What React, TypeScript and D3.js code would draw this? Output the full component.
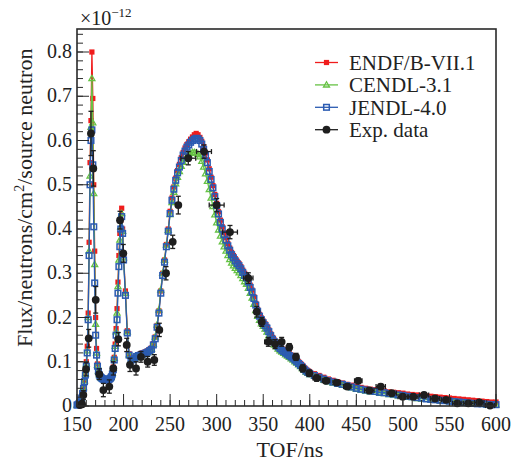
import React from 'react';
import * as d3 from 'd3';

const TOF = [
  150,151,152,153,154,155,156,157,158,159,160,161,162,163,164,165,166,167,168,169,170,
  171,172,173,174,175,176,177,178,179,180,181,182,183,184,185,186,187,188,189,190,
  191,192,193,194,195,196,197,198,199,200,
  202,204,206,208,210,212,214,216,218,220,222,224,226,228,230,232,234,236,238,240,
  242,244,246,248,250,252,254,256,258,260,262,264,266,268,270,272,274,276,278,280,
  282,284,286,288,290,292,294,296,298,300,302,304,306,308,310,312,314,316,318,320,
  322,324,326,328,330,332,334,336,338,340,342,344,346,348,350,352,354,356,358,360,
  362,364,366,368,370,372,374,376,378,380,382,384,386,388,390,392,394,396,398,400,
  405,410,415,420,425,430,435,440,445,450,455,460,465,470,475,480,485,490,495,500,
  505,510,515,520,525,530,535,540,545,550,555,560,565,570,575,580,585,590,595,600,
];

const ENDF = [
  0.002,0.003,0.005,0.008,0.012,0.019,0.03,0.043,0.058,0.075,
  0.1,0.135,0.21,0.37,0.55,0.645,0.8,0.695,0.5,0.35,
  0.2,0.13,0.095,0.08,0.072,0.067,0.065,0.063,0.062,0.061,
  0.06,0.06,0.06,0.061,0.062,0.063,0.065,0.068,0.075,0.088,
  0.11,0.14,0.175,0.22,0.28,0.34,0.39,0.42,0.447,0.4,0.34,
  0.26,0.17,0.118,0.106,0.107,0.11,0.113,0.116,0.118,0.12,
  0.121,0.123,0.125,0.128,0.131,0.141,0.156,0.182,0.215,0.26,
  0.3,0.33,0.365,0.4,0.44,0.47,0.495,0.515,0.532,0.546,
  0.561,0.573,0.583,0.591,0.597,0.603,0.608,0.613,0.616,0.613,
  0.607,0.598,0.586,0.572,0.556,0.536,0.517,0.498,0.478,0.458,
  0.439,0.42,0.405,0.392,0.38,0.367,0.357,0.347,0.34,0.333,
  0.327,0.322,0.315,0.307,0.3,0.295,0.285,0.273,0.262,0.247,
  0.232,0.218,0.207,0.199,0.192,0.186,0.18,0.172,0.163,0.155,
  0.149,0.144,0.138,0.134,0.13,0.127,0.124,0.121,0.118,0.115,
  0.112,0.108,0.104,0.1,0.096,0.092,0.087,0.083,0.08,0.077,
  0.073,0.069,0.065,0.061,0.058,0.055,0.052,0.049,0.047,0.044,
  0.042,0.04,0.038,0.037,0.035,0.034,0.032,0.031,0.03,0.029,
  0.027,0.026,0.025,0.024,0.023,0.022,0.021,0.02,0.019,0.018,
  0.017,0.016,0.015,0.014,0.013,0.012,0.011,0.01,0.009,0.009,
];

const CENDL = [
  0.002,0.003,0.005,0.008,0.012,0.019,0.029,0.042,0.057,0.073,
  0.095,0.125,0.2,0.35,0.52,0.63,0.74,0.64,0.48,0.32,
  0.185,0.12,0.092,0.079,0.071,0.066,0.064,0.062,0.061,0.06,
  0.059,0.059,0.059,0.06,0.061,0.062,0.064,0.067,0.074,0.086,
  0.108,0.135,0.168,0.21,0.27,0.33,0.375,0.405,0.435,0.395,0.335,
  0.255,0.168,0.116,0.104,0.105,0.108,0.111,0.113,0.114,0.116,
  0.117,0.119,0.121,0.124,0.128,0.14,0.156,0.183,0.217,0.262,
  0.3,0.33,0.364,0.397,0.433,0.46,0.483,0.502,0.517,0.53,
  0.542,0.551,0.558,0.564,0.568,0.571,0.573,0.573,0.572,0.569,
  0.563,0.553,0.54,0.525,0.508,0.489,0.47,0.451,0.432,0.414,
  0.398,0.384,0.371,0.36,0.35,0.34,0.331,0.323,0.317,0.311,
  0.306,0.301,0.295,0.288,0.281,0.275,0.266,0.255,0.244,0.23,
  0.216,0.203,0.194,0.186,0.18,0.174,0.167,0.159,0.151,0.144,
  0.138,0.134,0.129,0.125,0.122,0.119,0.116,0.113,0.11,0.107,
  0.104,0.1,0.097,0.093,0.089,0.085,0.081,0.077,0.074,0.071,
  0.067,0.063,0.059,0.055,0.052,0.049,0.047,0.044,0.041,0.038,
  0.036,0.034,0.032,0.031,0.029,0.028,0.026,0.025,0.023,0.022,
  0.02,0.019,0.017,0.016,0.015,0.014,0.013,0.012,0.011,0.01,
  0.009,0.008,0.007,0.006,0.005,0.004,0.004,0.003,0.002,0.002,
];

const JENDL = [
  0.002,0.003,0.005,0.008,0.012,0.018,0.028,0.04,0.055,0.07,
  0.09,0.12,0.195,0.34,0.5,0.6,0.624,0.545,0.405,0.278,
  0.16,0.115,0.09,0.078,0.07,0.066,0.064,0.062,0.061,0.06,
  0.059,0.059,0.059,0.06,0.06,0.061,0.063,0.066,0.072,0.082,
  0.104,0.13,0.16,0.195,0.255,0.315,0.36,0.4,0.428,0.39,0.33,
  0.25,0.165,0.115,0.104,0.105,0.108,0.112,0.114,0.115,0.117,
  0.118,0.12,0.122,0.125,0.128,0.138,0.152,0.178,0.21,0.255,
  0.295,0.325,0.36,0.395,0.435,0.465,0.49,0.51,0.527,0.54,
  0.555,0.567,0.576,0.585,0.59,0.596,0.6,0.603,0.605,0.604,
  0.6,0.592,0.58,0.566,0.55,0.53,0.512,0.493,0.473,0.453,
  0.434,0.415,0.4,0.387,0.375,0.362,0.352,0.342,0.335,0.328,
  0.322,0.317,0.31,0.302,0.295,0.29,0.28,0.268,0.258,0.243,
  0.228,0.214,0.203,0.195,0.188,0.182,0.176,0.168,0.159,0.151,
  0.145,0.14,0.134,0.13,0.126,0.123,0.12,0.117,0.114,0.111,
  0.108,0.104,0.1,0.096,0.092,0.088,0.083,0.079,0.076,0.073,
  0.069,0.065,0.061,0.057,0.054,0.051,0.049,0.046,0.043,0.04,
  0.038,0.036,0.034,0.033,0.031,0.03,0.028,0.027,0.025,0.024,
  0.022,0.021,0.019,0.018,0.016,0.015,0.014,0.013,0.012,0.011,
  0.01,0.009,0.008,0.007,0.006,0.005,0.005,0.004,0.003,0.003,
];

const EXP_T = [
  153,155.5,156.8,159.7,162.6,165.0,167.5,170.1,173.9,178.3,184.7,189.0,194.4,196.2,199.7,
  203.4,206.9,213.4,218.7,225.9,233.0,238.4,245.6,252.8,258.8,269.5,286.4,300.0,314.3,334.0,
  343.0,348.4,355.5,362.7,369.8,378.0,385.2,392.4,399.5,407.4,417.4,428.9,440.3,452.1,464.0,
  476.2,488.0,499.8,511.2,522.7,534.5,546.3,558.4,570.3,582.1,593.6,
];
const EXP_V = [
  0.002,0.004,0.025,0.083,0.153,0.616,0.537,0.24,0.072,0.036,0.044,0.085,0.151,0.42,0.345,
  0.138,0.093,0.085,0.111,0.1,0.104,0.172,0.3,0.371,0.454,0.56,0.575,0.454,0.393,0.289,
  0.213,0.19,0.145,0.14,0.145,0.133,0.111,0.085,0.074,0.063,0.057,0.053,0.044,0.057,0.035,
  0.044,0.029,0.021,0.021,0.025,0.017,0.014,0.006,0.006,0.008,0.001,
];
const EXP_DT = [
  0.5,0.5,0.5,0.5,0.5,0.5,0.5,0.5,0.5,0.5,0.5,0.5,0.5,0.5,0.5,
  1,1,1,1,1,1,1,1,1,1,8,8,8,8,5,
  3,3,4,3,3,3,3,3,3,4,4,4,4,4,5,
  5,5,5,5,5,5,5,5,5,5,5,
];
const EXP_DV = [
  0.006,0.008,0.01,0.015,0.02,0.05,0.04,0.03,0.012,0.015,0.015,0.015,0.015,0.02,0.02,
  0.015,0.015,0.015,0.012,0.012,0.012,0.015,0.015,0.015,0.02,0.015,0.015,0.015,0.015,0.012,
  0.012,0.01,0.01,0.01,0.01,0.008,0.008,0.008,0.007,0.007,0.006,0.006,0.006,0.006,0.005,
  0.005,0.005,0.005,0.005,0.005,0.004,0.004,0.004,0.004,0.004,0.004,
];

const X_TICKS = [150, 200, 250, 300, 350, 400, 450, 500, 550, 600];
const Y_TICKS = [0, 0.1, 0.2, 0.3, 0.4, 0.5, 0.6, 0.7, 0.8];
const Y_LABELS = ['0', '0.1', '0.2', '0.3', '0.4', '0.5', '0.6', '0.7', '0.8'];

const LEGEND = ['ENDF/B-VII.1', 'CENDL-3.1', 'JENDL-4.0', 'Exp. data'];

const RED = '#f01c1c';
const GREEN = '#66c244';
const BLUE = '#2b5bb2';
const BLACK = '#1e1e1e';
const FONT = '"Liberation Serif", "Times New Roman", serif';

const L = 77, R = 496, T = 29, B = 406;

function Marker({ kind, cx, cy }: { kind: string; cx: number; cy: number }) {
  if (kind === 'red') return <rect x={cx - 2.6} y={cy - 2.6} width={5.2} height={5.2} fill={RED} />;
  if (kind === 'green') {
    const s = 6;
    const h = s * 0.87;
    return (
      <polygon
        points={`${cx},${cy - h * 0.6} ${cx - s / 2},${cy + h * 0.4} ${cx + s / 2},${cy + h * 0.4}`}
        fill="none" stroke={GREEN} strokeWidth={1.3}
      />
    );
  }
  if (kind === 'blue') return <rect x={cx - 2.8} y={cy - 2.8} width={5.6} height={5.6} fill="none" stroke={BLUE} strokeWidth={1.5} />;
  return <circle cx={cx} cy={cy} r={3.9} fill={BLACK} />;
}

export default function App() {
  const x = d3.scaleLinear().domain([150, 600]).range([L, R]);
  const y = d3.scaleLinear().domain([0, 0.852]).range([B, T]);

  const line = d3.line<number>().x((_, i) => x(TOF[i])).y((d) => y(d));

  const series = [
    { key: 'red', data: ENDF, color: RED },
    { key: 'green', data: CENDL, color: GREEN },
    { key: 'blue', data: JENDL, color: BLUE },
  ];

  const xMinor = d3.range(150, 601, 10);
  const yMinor = d3.range(0, 0.851, 0.02);

  const legendColors = [RED, GREEN, BLUE, BLACK];
  const legendKinds = ['red', 'green', 'blue', 'black'];

  return (
    <svg width={518} height={461} style={{ position: 'absolute', left: 0, top: 0, background: '#fff' }}
      fontFamily={FONT}>
      <rect x={0} y={0} width={518} height={461} fill="#fff" />

      {series.map((s) => (
        <g key={s.key}>
          <path d={line(s.data) || ''} fill="none" stroke={s.color} strokeWidth={1.3} />
          {s.data.map((v, i) => (
            <Marker key={i} kind={s.key} cx={x(TOF[i])} cy={y(v)} />
          ))}
        </g>
      ))}

      <g stroke={BLACK} strokeWidth={1.3}>
        {EXP_T.map((t, i) => {
          const cx = x(t), cy = y(EXP_V[i]);
          const x0 = x(t - EXP_DT[i]), x1 = x(t + EXP_DT[i]);
          const y0 = y(Math.max(0, EXP_V[i] - EXP_DV[i])), y1 = y(EXP_V[i] + EXP_DV[i]);
          return (
            <g key={i}>
              <line x1={x0} x2={x1} y1={cy} y2={cy} />
              <line x1={cx} x2={cx} y1={y0} y2={y1} />
              {x1 - x0 > 6 && <line x1={x0} x2={x0} y1={cy - 2.5} y2={cy + 2.5} />}
              {x1 - x0 > 6 && <line x1={x1} x2={x1} y1={cy - 2.5} y2={cy + 2.5} />}
              <line x1={cx - 2.5} x2={cx + 2.5} y1={y0} y2={y0} />
              <line x1={cx - 2.5} x2={cx + 2.5} y1={y1} y2={y1} />
              <circle cx={cx} cy={cy} r={3.9} fill={BLACK} stroke="none" />
            </g>
          );
        })}
      </g>

      <rect x={L} y={T} width={R - L} height={B - T} fill="none" stroke="#2a2a2a" strokeWidth={1.6} />

      <g stroke="#2a2a2a" strokeWidth={1}>
        {xMinor.map((t) => (
          <line key={'xm' + t} x1={x(t)} x2={x(t)} y1={B} y2={B - 6} />
        ))}
        {X_TICKS.map((t) => (
          <line key={'xM' + t} x1={x(t)} x2={x(t)} y1={B} y2={B - 12} />
        ))}
        {yMinor.map((v, i) => (
          <line key={'ym' + i} x1={L} x2={L + 6} y1={y(v)} y2={y(v)} />
        ))}
        {Y_TICKS.map((v) => (
          <line key={'yM' + v} x1={L} x2={L + 12} y1={y(v)} y2={y(v)} />
        ))}
      </g>

      <g fontSize={20} fill="#222">
        {X_TICKS.map((t) => (
          <text key={'xl' + t} x={x(t)} y={431} textAnchor="middle">{t}</text>
        ))}
        {Y_TICKS.map((v, i) => (
          <text key={'yl' + v} x={72} y={y(v) + 6} textAnchor="end">{Y_LABELS[i]}</text>
        ))}
      </g>

      <text x={80} y={25} fontSize={20} fill="#222">
        ×10<tspan fontSize={13} dy={-8}>−12</tspan>
      </text>

      <text x={290} y={457} fontSize={22} textAnchor="middle" fill="#222">TOF/ns</text>

      <text transform="translate(32,347) rotate(-90)" fontSize={22} fill="#222">
        Flux/neutrons/cm<tspan fontSize={14} dy={-8}>2</tspan><tspan dy={8}>/source neutron</tspan>
      </text>

      {LEGEND.map((name, i) => {
        const by = 70 + i * 22.4;
        const my = by - 7.5;
        return (
          <g key={name}>
            <line x1={315} x2={338} y1={my} y2={my} stroke={legendColors[i]} strokeWidth={1.3} />
            <Marker kind={legendKinds[i]} cx={326.5} cy={my} />
            <text x={349} y={by} fontSize={21} fill="#222">{name}</text>
          </g>
        );
      })}
    </svg>
  );
}
